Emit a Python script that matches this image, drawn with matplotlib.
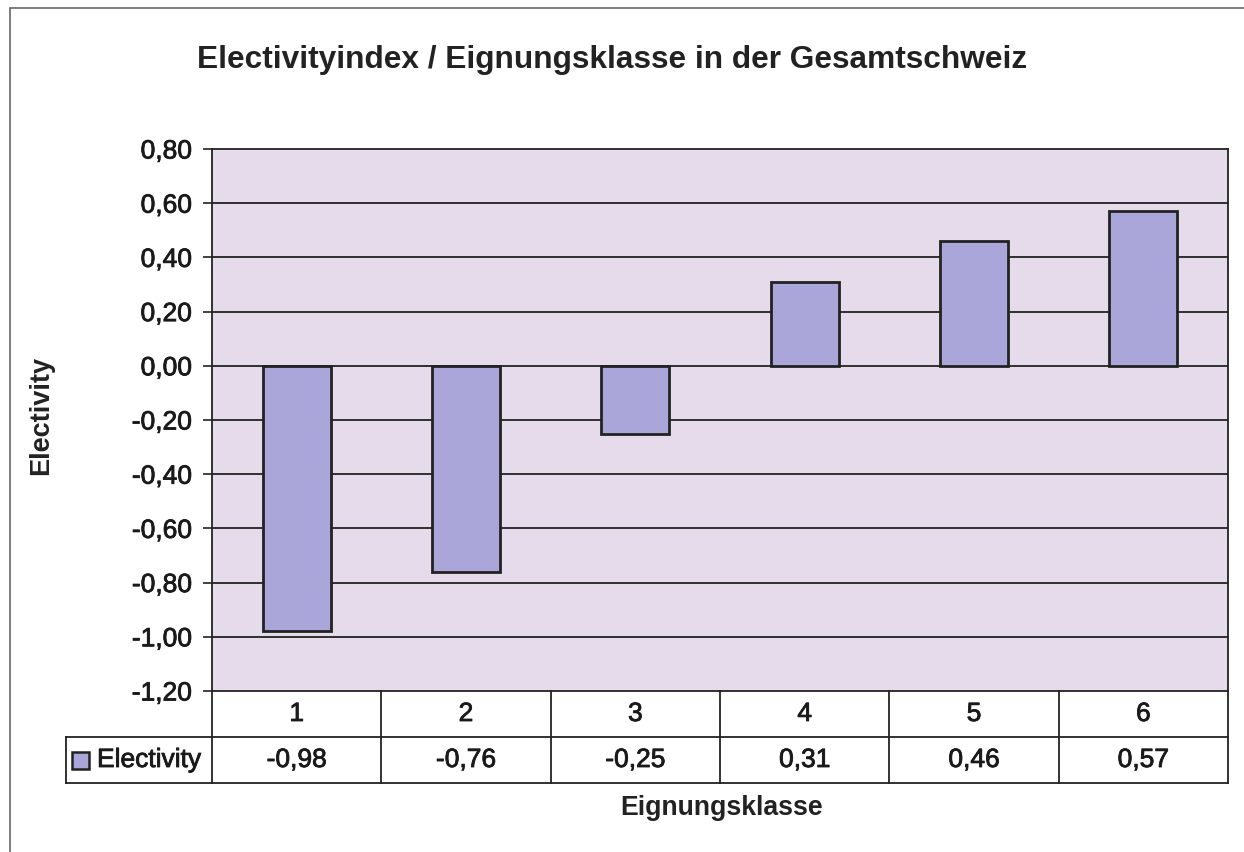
import matplotlib.pyplot as plt
import matplotlib.patheffects as pe
from matplotlib.patches import Rectangle

plt.rcParams['font.family'] = ['Liberation Sans', 'DejaVu Sans']

### Data ###
categories = ['1', '2', '3', '4', '5', '6']
electivity = [-0.98, -0.76, -0.25, 0.31, 0.46, 0.57]
yticks = [-1.2, -1.0, -0.8, -0.6, -0.4, -0.2, 0.0, 0.2, 0.4, 0.6, 0.8]

bar_color = '#aaa6da'
bg_color = '#e5dbea'
line_color = '#222222'
text_color = '#1a1a1a'
fs = 19

# Slight stroke to mimic the heavier look of the scanned text
thick = [pe.withStroke(linewidth = 0.6, foreground = text_color)]

def de_fmt(v):
    return f"{v:.2f}".replace('.', ',')

fig = plt.figure(figsize = (12.44, 8.53), dpi = 100)
fig.patch.set_facecolor('white')

# Outer chart frame (only left/top edges visible in the scan)
fig.add_artist(Rectangle((10 / 1244, -0.05), 1.1, (853 - 9) / 853 + 0.05,
                         transform = fig.transFigure, fill = False,
                         edgecolor = '#666666', lw = 1.2))

ax = fig.add_axes([212 / 1244, (853 - 692) / 853, 1016 / 1244, 542 / 853])
ax.set_facecolor(bg_color)

x = list(range(len(categories)))
ax.bar(x, electivity, width = 0.4, color = bar_color, edgecolor = line_color, lw = 2, zorder = 3)

ax.set_xlim(-0.5, len(categories) - 0.5)
ax.set_ylim(-1.2, 0.8)
ax.set_yticks(yticks)
ax.set_yticklabels([de_fmt(v) for v in yticks], fontsize = fs, color = text_color)
for lbl in ax.get_yticklabels():
    lbl.set_path_effects(thick)
ax.tick_params(axis = 'y', length = 6.5, width = 1.2, color = line_color, pad = 8)
ax.set_xticks([])

for y in yticks[1:-1]:
    ax.axhline(y, color = line_color, lw = 1.3, zorder = 1)

for side in ['top', 'right', 'bottom', 'left']:
    ax.spines[side].set_color(line_color)
    ax.spines[side].set_linewidth(1.3)

### Data table below the axes ###
row_h = 46 / 542
leg_x = (66 - 212) / 1016
ncol = len(categories)
kw = dict(transform = ax.transAxes, clip_on = False, color = line_color, lw = 1.3)

ax.plot([0, 0], [0, -2 * row_h], **kw)
for i in range(1, ncol + 1):
    ax.plot([i / ncol, i / ncol], [0, -2 * row_h], **kw)
ax.plot([leg_x, 1], [-row_h, -row_h], **kw)
ax.plot([leg_x, 1], [-2 * row_h, -2 * row_h], **kw)
ax.plot([leg_x, leg_x], [-row_h, -2 * row_h], **kw)

for i, (cat, val) in enumerate(zip(categories, electivity)):
    cx = (i + 0.5) / ncol
    ax.text(cx, -0.5 * row_h, cat, transform = ax.transAxes, ha = 'center', va = 'center',
            fontsize = fs, color = text_color, path_effects = thick)
    ax.text(cx, -1.5 * row_h, de_fmt(val), transform = ax.transAxes, ha = 'center', va = 'center',
            fontsize = fs, color = text_color, path_effects = thick)

# Legend key inside the row-label cell
key_w, key_h = 17 / 1016, 17 / 542
ax.add_patch(Rectangle((leg_x + 6 / 1016, -1.5 * row_h - key_h / 2), key_w, key_h,
                       transform = ax.transAxes, clip_on = False,
                       facecolor = bar_color, edgecolor = line_color, lw = 1.8))
ax.text(leg_x + 31 / 1016, -1.5 * row_h, 'Electivity', transform = ax.transAxes,
        ha = 'left', va = 'center', fontsize = fs, color = text_color, path_effects = thick)

### Titles ###
fig.text(612 / 1244, 1 - 60 / 853, 'Electivityindex / Eignungsklasse in der Gesamtschweiz',
         ha = 'center', va = 'center', fontsize = 22.8, fontweight = 'bold', color = '#222222')
fig.text(722 / 1244, 1 - 808 / 853, 'Eignungsklasse', ha = 'center', va = 'center',
         fontsize = 19.2, fontweight = 'bold', color = '#222222')
fig.text(41 / 1244, 1 - 415 / 853, 'Electivity', ha = 'center', va = 'center',
         fontsize = 19.5, fontweight = 'bold', rotation = 90, color = '#222222')

fig.savefig('out.png', dpi = 100)
